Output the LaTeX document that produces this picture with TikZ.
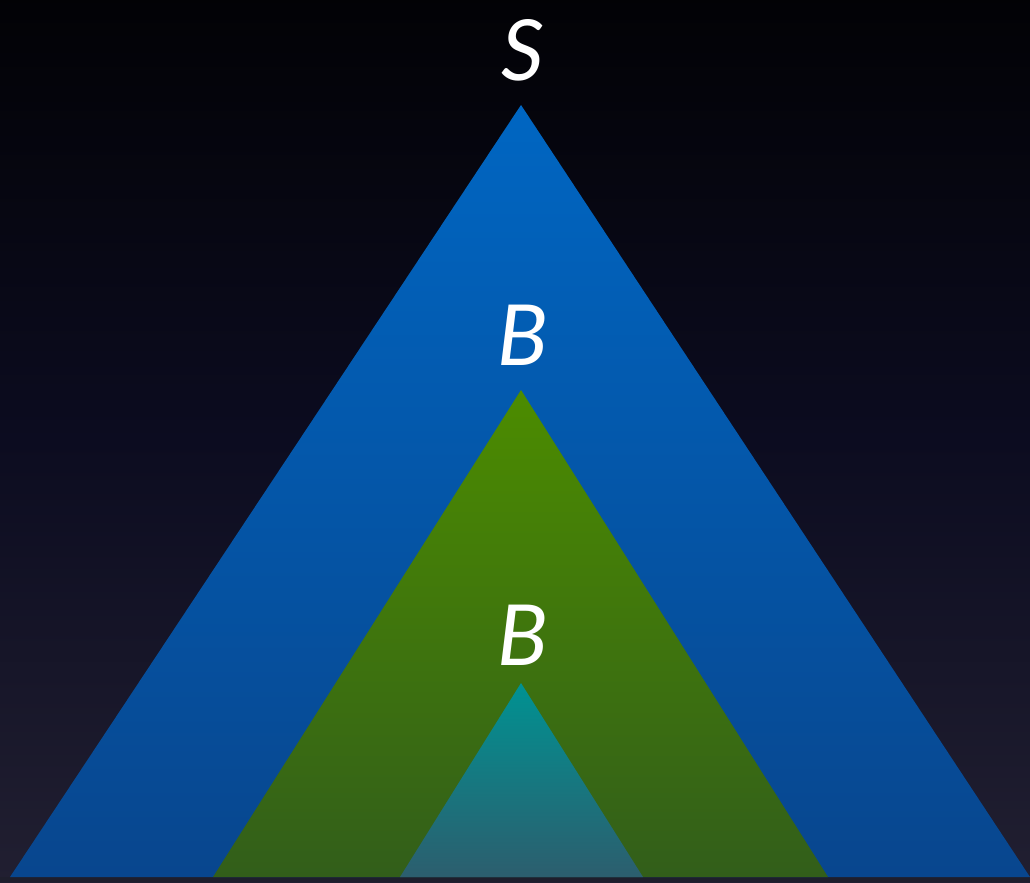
\documentclass[tikz,border=0pt]{standalone}
\usepackage{fontspec}
\setmainfont{Lato}
\usepackage{xcolor}
\usepackage{tikz}
\definecolor{bgtop}{RGB}{0, 0, 0}
\definecolor{bgmid}{RGB}{12, 12, 32}
\definecolor{bgbot}{RGB}{54, 50, 66}
\definecolor{basecolor}{RGB}{30, 30, 44}
\definecolor{outertop}{RGB}{0, 102, 194}
\definecolor{outerbot}{RGB}{8, 70, 142}
\definecolor{middletop}{RGB}{76, 140, 0}
\definecolor{middlebot}{RGB}{50, 94, 26}
\definecolor{innertop}{RGB}{0, 146, 146}
\definecolor{innerbot}{RGB}{44, 94, 110}
\usetikzlibrary{positioning, calc}
\pgfdeclareverticalshading{bgshade}{100bp}{color(0bp)=(bgbot); color(50bp)=(bgmid); color(80bp)=(bgtop); color(100bp)=(bgtop)}

\begin{document}
\begin{tikzpicture}[x=0.02cm, y=-0.02cm,
    label/.style={text=white, font=\fontsize{48}{52}\selectfont\itshape, inner sep=0pt}
]
    % Background
    \shade[shading=bgshade] (0, 0) rectangle (1030, 882);
    \fill[basecolor] (0, 877) rectangle (1030, 882);
    \useasboundingbox (0, 0) rectangle (1030, 882);

    % Outer triangle
    \shade[top color=outertop, bottom color=outerbot] (521, 105) -- (1030, 877) -- (10, 877) -- cycle;
    \node[label] (s) at (523, 50) {S};

    % Middle triangle
    \shade[top color=middletop, bottom color=middlebot] (521, 390) -- (828, 877) -- (213, 877) -- cycle;
    \node[label] (b1) at (523, 335) {B};

    % Inner triangle
    \shade[top color=innertop, bottom color=innerbot] (521, 683) -- (643, 877) -- (400, 877) -- cycle;
    \node[label] (b2) at (523, 635) {B};
\end{tikzpicture}
\end{document}
